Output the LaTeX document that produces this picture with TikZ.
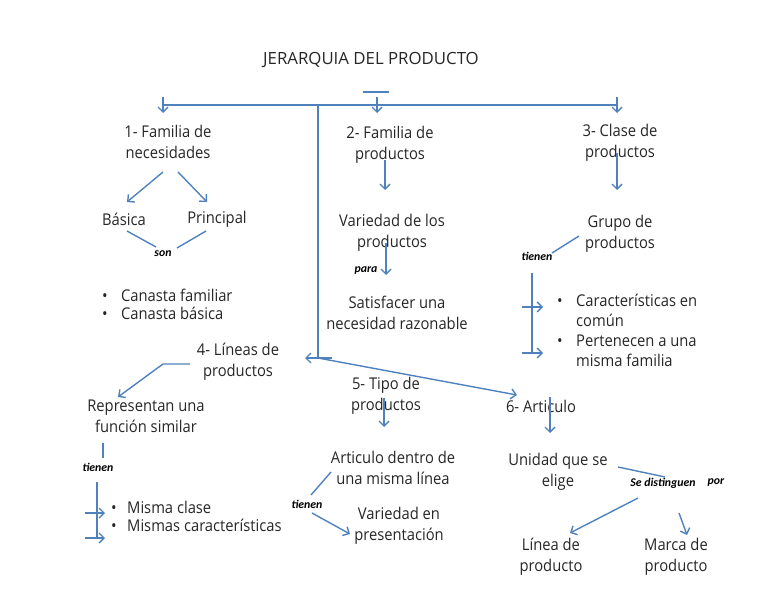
\documentclass[tikz,border=0pt]{standalone}
\usepackage{fontspec}
\setmainfont{Open Sans}[FakeStretch=0.91]
\newfontfamily\titlefont{Open Sans}
\newfontfamily\lblfont{Carlito}
\usetikzlibrary{arrows.meta, positioning}
\definecolor{linkblue}{HTML}{4F81BD}
\definecolor{inkgray}{HTML}{262626}
\newcommand{\blt}[1]{\makebox[#1][l]{\textbullet}}

\begin{document}
\begin{tikzpicture}[
  x=1pt, y=-1pt,
  txt/.style={align=center, inner sep=0pt, text=inkgray, font=\fontsize{16.2}{21}\selectfont},
  itemlist/.style={txt, align=left, anchor=base west},
  lbl/.style={inner sep=0pt, font=\lblfont\bfseries\itshape\fontsize{11.8}{13}\selectfont},
  link/.style={draw=linkblue, line width=1.4pt},
  arrow/.style={link, -{Straight Barb[length=5pt, width=10pt]}}
]
\useasboundingbox (0,0) rectangle (768,594);

% Titulo y barra superior
\node[txt, font=\titlefont\fontsize{16.8}{21}\selectfont] (title) at (371,60) {JERARQUIA DEL PRODUCTO};
\coordinate (dashL) at (363,92);
\coordinate (dashR) at (389,92);
\coordinate (barL) at (163,105);
\coordinate (barM) at (377,105);
\coordinate (barR) at (617,105);
\coordinate (hub) at (318,105);
\coordinate (hubfoot) at (318,358);

\draw[link] (dashL) -- (dashR);
\draw[link] (barL) -- (barR);
\draw[link] (hub) -- (hubfoot);
\foreach \c in {barL, barM, barR}
  \draw[arrow] ([yshift=8pt]\c) -- ([yshift=-8pt]\c);

% 1- Familia de necesidades
\node[txt] (fam1) at (168,142) {1- Familia de\\necesidades};
\node[txt] (basica) at (124,219) {Básica};
\node[txt] (principal) at (217,219) {Principal};
\node[lbl] (son) at (163,254) {son};
% base = linea de base de la ultima linea
\node[itemlist, font=\fontsize{16.2}{18}\selectfont] (canasta) at (102,319)
  {\blt{19pt}Canasta familiar\\\blt{19pt}Canasta básica};

\coordinate (f1a) at (163,172); \coordinate (f1b) at (127,202);
\coordinate (f1c) at (178,172); \coordinate (f1d) at (207,202);
\coordinate (sonL) at (127,231); \coordinate (sonLe) at (156,247);
\coordinate (sonR) at (206,231); \coordinate (sonRe) at (177,248);
\draw[arrow] (f1a) -- (f1b);
\draw[arrow] (f1c) -- (f1d);
\draw[link] (sonL) -- (sonLe);
\draw[link] (sonR) -- (sonRe);

% 2- Familia de productos
\node[txt] (fam2) at (390,145) {2- Familia de\\productos};
\node[txt] (variedad) at (392,233) {Variedad de los\\productos};
\node[lbl] (para) at (366,271) {para};
\node[txt] (satisfacer) at (397,313) {Satisfacer una\\necesidad razonable};

\coordinate (f2a) at (385,160); \coordinate (f2b) at (385,190);
\coordinate (vara) at (386,243); \coordinate (varb) at (386,275);
\draw[arrow] (f2a) -- (f2b);
\draw[arrow] (vara) -- (varb);

% 3- Clase de productos
\node[txt] (clase) at (620,143) {3- Clase de\\productos};
\node[txt] (grupo) at (620,234) {Grupo de\\productos};
\node[lbl] (tienen3) at (537,256) {tienen};
\node[itemlist, font=\fontsize{16.2}{20}\selectfont] (comun) at (557,366)
  {\blt{19pt}Características en\\\hspace*{19pt}común\\\blt{19pt}Pertenecen a una\\\hspace*{19pt}misma familia};

\coordinate (c3a) at (617,153); \coordinate (c3b) at (617,190);
\coordinate (gra) at (579,236); \coordinate (grb) at (552,253);
\coordinate (brTop) at (532,273); \coordinate (brBot) at (532,353);
\coordinate (br1a) at (522,307); \coordinate (br1b) at (543,307);
\coordinate (br2a) at (522,353); \coordinate (br2b) at (543,353);
\draw[arrow] (c3a) -- (c3b);
\draw[link] (gra) -- (grb);
\draw[link] (brTop) -- (brBot);
\draw[arrow] (br1a) -- (br1b);
\draw[arrow] (br2a) -- (br2b);

% 4- Lineas de productos
\node[txt] (lineas) at (238,362) {4- Líneas de\\productos};
\node[txt] (representan) at (146,416) {Representan una\\función similar};
\node[lbl] (tienen4) at (98,467) {tienen};
\node[itemlist, font=\fontsize{16.2}{18}\selectfont] (misma) at (111,531)
  {\blt{16pt}Misma clase\\\blt{16pt}Mismas características};

\coordinate (l4a) at (190,364); \coordinate (l4b) at (163,364);
\coordinate (l4c) at (118,397);
\coordinate (r4a) at (103,443); \coordinate (r4b) at (103,458);
\coordinate (blTop) at (97,482); \coordinate (blBot) at (97,538);
\coordinate (bl1a) at (85,513); \coordinate (bl1b) at (105,513);
\coordinate (bl2a) at (85,538); \coordinate (bl2b) at (105,538);
\draw[arrow] (l4a) -- (l4b) -- (l4c);
\draw[link] (r4a) -- (r4b);
\draw[link] (blTop) -- (blBot);
\draw[arrow] (bl1a) -- (bl1b);
\draw[arrow] (bl2a) -- (bl2b);

% Salidas del eje central
\coordinate (hubL) at (332,358); \coordinate (hubLtip) at (305,358);
\coordinate (art6tip) at (517,395);
\draw[arrow] (hubL) -- (hubLtip);
\draw[arrow] (hubfoot) -- (art6tip);

% 5- Tipo de productos
\node[txt] (tipo) at (386,396) {5- Tipo de\\productos};
\node[txt] (dentro) at (393,468) {Articulo dentro de\\una misma línea};
\node[lbl] (tienen5) at (307,504) {tienen};
\node[txt] (presentacion) at (399,526) {Variedad en\\presentación};

\coordinate (t5a) at (384,398); \coordinate (t5b) at (384,427);
\coordinate (d5a) at (331,472); \coordinate (d5b) at (311,495);
\coordinate (d5c) at (312,513); \coordinate (d5d) at (350,534);
\draw[arrow] (t5a) -- (t5b);
\draw[link] (d5a) -- (d5b);
\draw[arrow] (d5c) -- (d5d);

% 6- Articulo
\node[txt] (articulo) at (541,406) {6- Articulo};
\node[txt] (unidad) at (558,472) {Unidad que se\\elige};
\node[lbl] (distinguen) at (663,483) {Se distinguen};
\node[lbl] (por) at (716,483) {por};
\node[txt] (linea) at (551,557) {Línea de\\producto};
\node[txt] (marca) at (676,557) {Marca de\\producto};

\coordinate (a6a) at (550,397); \coordinate (a6b) at (550,433);
\coordinate (u6a) at (618,467); \coordinate (u6b) at (665,477);
\coordinate (s6a) at (638,498); \coordinate (s6b) at (570,533);
\coordinate (s6c) at (679,513); \coordinate (s6d) at (687,535);
\draw[arrow] (a6a) -- (a6b);
\draw[link] (u6a) -- (u6b);
\draw[arrow] (s6a) -- (s6b);
\draw[arrow] (s6c) -- (s6d);

\end{tikzpicture}
\end{document}
